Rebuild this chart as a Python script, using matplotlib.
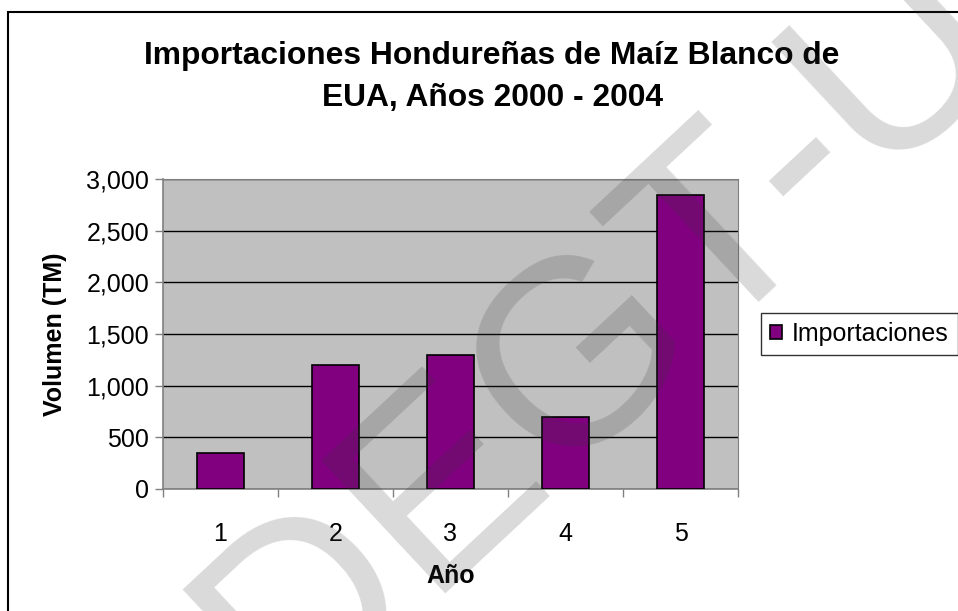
import numpy as np
import matplotlib.pyplot as plt
from matplotlib.patches import Rectangle

plt.rcParams['font.family'] = ['Liberation Sans', 'DejaVu Sans']

# data
anios = ['1', '2', '3', '4', '5']
importaciones = [350, 1200, 1300, 700, 2850]
y_ticks = [0, 500, 1000, 1500, 2000, 2500, 3000]

fig = plt.figure(figsize=(9.58, 6.11), dpi=100)
fig.patch.set_facecolor('white')

# outer chart border (cut off on right and bottom)
fig.patches.append(Rectangle((8 / 958, -0.1), 1.2, 1.0 - 12 / 611 + 0.1,
                             transform=fig.transFigure, fill=False,
                             edgecolor='black', linewidth=1.5))

ax = fig.add_axes([163 / 958, 1 - 489 / 611, 575 / 958, 310 / 611])
ax.set_facecolor('#c0c0c0')

x = np.arange(len(anios))
ax.bar(x, importaciones, width=0.41, color='#800080', edgecolor='black',
       linewidth=1.2, label='Importaciones', zorder=3)

ax.set_xlim(-0.5, len(anios) - 0.5)
ax.set_ylim(0, 3000)
ax.set_yticks(y_ticks)
ax.set_yticklabels(['{:,}'.format(v) for v in y_ticks])
ax.yaxis.grid(True, color='black', linewidth=1)
ax.set_axisbelow(True)

# category labels centred, tick marks between categories
ax.set_xticks(x)
ax.set_xticklabels(anios)
ax.tick_params(axis='x', length=0, labelsize=18, pad=24)
ax.set_xticks(np.arange(-0.5, len(anios)), minor=True)
ax.tick_params(axis='x', which='minor', length=6, width=1, color='#808080')
ax.tick_params(axis='y', length=6, width=1, color='#808080', labelsize=18, pad=4)

for side in ['top', 'right']:
    ax.spines[side].set_color('#808080')
for side in ['left', 'bottom']:
    ax.spines[side].set_color('#808080')
    ax.spines[side].set_linewidth(1.2)

ax.set_xlabel('Año', fontsize=18, fontweight='bold', labelpad=13)
ax.set_ylabel('Volumen (TM)', fontsize=18, fontweight='bold', labelpad=14)

fig.text(492 / 958, 1 - 77 / 611, 'Importaciones Hondureñas de Maíz Blanco de\nEUA, Años 2000 - 2004',
         ha='center', va='center', fontsize=22.9, fontweight='bold', linespacing=1.48)

leg = fig.legend(loc='center left', bbox_to_anchor=(761 / 958, 1 - 334 / 611),
                 fontsize=18, frameon=True, fancybox=False, edgecolor='black',
                 handlelength=0.5, handleheight=0.5, handletextpad=0.4,
                 borderpad=0.35, borderaxespad=0)
leg.get_frame().set_linewidth(1)

# watermark
fig.text(603 / 958, 1 - 333 / 611, 'DEGT-U', ha='center', va='center',
         rotation=43, fontsize=190, color='#373737', alpha=0.19, zorder=10)

fig.savefig('out.png', dpi=100)
